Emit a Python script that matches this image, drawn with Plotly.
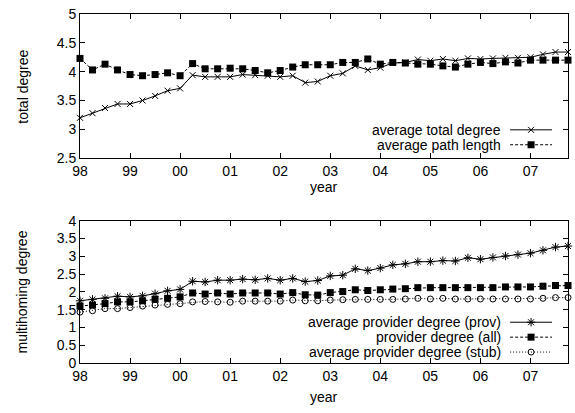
import plotly.graph_objects as go

# ---------------- data ----------------
years = [1998 + 0.25 * i for i in range(40)]
tick_vals = list(range(1998, 2008))
tick_text = ["98", "99", "00", "01", "02", "03", "04", "05", "06", "07"]

avg_total_degree = [3.20, 3.28, 3.37, 3.44, 3.44, 3.50, 3.58, 3.67, 3.71, 3.94,
                    3.91, 3.91, 3.91, 3.95, 3.94, 3.93, 3.91, 3.93, 3.81, 3.83,
                    3.93, 3.97, 4.10, 4.03, 4.07, 4.15, 4.16, 4.21, 4.19, 4.22,
                    4.19, 4.23, 4.22, 4.23, 4.24, 4.24, 4.25, 4.30, 4.34, 4.34]
avg_path_length = [4.23, 4.03, 4.13, 4.03, 3.95, 3.93, 3.95, 3.98, 3.93, 4.14,
                   4.05, 4.05, 4.06, 4.05, 4.02, 3.98, 4.02, 4.08, 4.12, 4.12,
                   4.12, 4.16, 4.16, 4.22, 4.13, 4.16, 4.15, 4.13, 4.13, 4.10,
                   4.08, 4.13, 4.16, 4.14, 4.17, 4.15, 4.20, 4.20, 4.20, 4.20]

prov_degree = [1.75, 1.79, 1.82, 1.88, 1.86, 1.89, 1.95, 2.03, 2.07, 2.30,
               2.28, 2.33, 2.33, 2.36, 2.34, 2.38, 2.33, 2.38, 2.29, 2.32,
               2.45, 2.47, 2.65, 2.60, 2.67, 2.76, 2.79, 2.85, 2.85, 2.88,
               2.87, 2.96, 2.92, 2.97, 3.01, 3.05, 3.09, 3.17, 3.26, 3.29]
all_degree = [1.60, 1.63, 1.67, 1.72, 1.72, 1.75, 1.79, 1.82, 1.86, 1.97,
              1.94, 1.97, 1.94, 1.97, 1.97, 1.97, 1.94, 1.98, 1.92, 1.91,
              1.98, 2.01, 2.06, 2.04, 2.06, 2.08, 2.09, 2.12, 2.12, 2.12,
              2.12, 2.12, 2.12, 2.12, 2.14, 2.14, 2.14, 2.16, 2.18, 2.18]
stub_degree = [1.43, 1.47, 1.53, 1.53, 1.56, 1.60, 1.63, 1.65, 1.67, 1.72,
               1.73, 1.72, 1.71, 1.74, 1.74, 1.74, 1.74, 1.77, 1.75, 1.75,
               1.77, 1.78, 1.79, 1.79, 1.79, 1.79, 1.80, 1.82, 1.80, 1.82,
               1.80, 1.80, 1.80, 1.80, 1.80, 1.80, 1.80, 1.82, 1.84, 1.84]

top_names = ["average total degree", "average path length"]
bot_names = ["average provider degree (prov)", "provider degree (all)",
             "average provider degree (stub)"]

# ---------------- geometry ----------------
W, H = 575, 413
L, R, T, B = 80, 6, 12, 50
PW, PH = W - L - R, H - T - B


def px(x):
    return (x - L) / PW


def py(y):
    return (H - B - y) / PH


FONT = "Liberation Sans, Arial, Helvetica, sans-serif"
BLACK = "#000000"

styles = {
    "total": dict(line=dict(color=BLACK, width=1, dash="solid"),
                  marker=dict(symbol="x-thin-open", size=6, color=BLACK,
                              line=dict(color=BLACK, width=1))),
    "path": dict(line=dict(color=BLACK, width=1, dash="3px,2px"),
                 marker=dict(symbol="square", size=7, color=BLACK,
                             line=dict(width=0))),
    "prov": dict(line=dict(color=BLACK, width=1, dash="solid"),
                 marker=dict(symbol="asterisk-open", size=7, color=BLACK,
                             line=dict(color=BLACK, width=1))),
    "all": dict(line=dict(color=BLACK, width=1, dash="3px,2px"),
                marker=dict(symbol="square", size=7, color=BLACK,
                            line=dict(width=0))),
    "stub": dict(line=dict(color=BLACK, width=1, dash="1px,2px"),
                 marker=dict(symbol="circle-open", size=6, color=BLACK,
                             line=dict(color=BLACK, width=1))),
}

fig = go.Figure()

fig.add_trace(go.Scatter(x=years, y=avg_total_degree, mode="lines+markers",
                         name=top_names[0], xaxis="x", yaxis="y", **styles["total"]))
fig.add_trace(go.Scatter(x=years, y=avg_path_length, mode="lines+markers",
                         name=top_names[1], xaxis="x", yaxis="y", **styles["path"]))
fig.add_trace(go.Scatter(x=years, y=prov_degree, mode="lines+markers",
                         name=bot_names[0], xaxis="x2", yaxis="y2", **styles["prov"]))
fig.add_trace(go.Scatter(x=years, y=all_degree, mode="lines+markers",
                         name=bot_names[1], xaxis="x2", yaxis="y2", **styles["all"]))
fig.add_trace(go.Scatter(x=years, y=stub_degree, mode="lines+markers",
                         name=bot_names[2], xaxis="x2", yaxis="y2", **styles["stub"]))

for tr in fig.data:
    tr.cliponaxis = False

# ---------------- custom legends (gnuplot style: text, then sample at right) ----
legend_rows = [
    (top_names[0], 128.5, "total"),
    (top_names[1], 143.5, "path"),
    (bot_names[0], 322, "prov"),
    (bot_names[1], 337, "all"),
    (bot_names[2], 352, "stub"),
]
LEG_SIZE = 14
annotations = []
sample_x0, sample_x1, sample_xm, text_right = 511, 553, 532, 504
for name, ypix, key in legend_rows:
    annotations.append(dict(x=px(text_right), y=py(ypix), xref="paper", yref="paper",
                            text=name, showarrow=False, xanchor="right",
                            yanchor="middle",
                            font=dict(size=LEG_SIZE, family=FONT, color=BLACK)))
    st = styles[key]
    fig.add_trace(go.Scatter(x=[px(sample_x0), px(sample_x1)], y=[py(ypix), py(ypix)],
                             mode="lines", line=st["line"], xaxis="x3", yaxis="y3",
                             showlegend=False, hoverinfo="skip"))
    fig.add_trace(go.Scatter(x=[px(sample_xm)], y=[py(ypix)], mode="markers",
                             marker=st["marker"], xaxis="x3", yaxis="y3",
                             showlegend=False, hoverinfo="skip"))

# axis titles
title_font = dict(size=14, family=FONT, color=BLACK)
annotations += [
    dict(x=px(22), y=py(85), xref="paper", yref="paper", text="total degree",
         textangle=-90, showarrow=False, xanchor="center", yanchor="middle", font=title_font),
    dict(x=px(22), y=py(292), xref="paper", yref="paper", text="multihoming degree",
         textangle=-90, showarrow=False, xanchor="center", yanchor="middle", font=title_font),
    dict(x=px(324), y=py(186), xref="paper", yref="paper", text="year",
         showarrow=False, xanchor="center", yanchor="middle", font=title_font),
    dict(x=px(324), y=py(397), xref="paper", yref="paper", text="year",
         showarrow=False, xanchor="center", yanchor="middle", font=title_font),
]

axis_common = dict(showline=True, linecolor=BLACK, linewidth=1, mirror="ticks",
                   ticks="inside", ticklen=5, tickcolor=BLACK, tickwidth=1,
                   showgrid=False, zeroline=False,
                   tickfont=dict(size=14, family=FONT, color=BLACK))

top_lo = py(157)
bot_hi = py(220)

fig.update_layout(
    width=W, height=H,
    margin=dict(l=L, r=R, t=T, b=B, pad=0),
    paper_bgcolor="white", plot_bgcolor="rgba(0,0,0,0)",
    showlegend=False,
    font=dict(family=FONT, size=14, color=BLACK),
    xaxis=dict(domain=[0, 1], anchor="y", range=[1998, 2007.75],
               tickvals=tick_vals, ticktext=tick_text, **axis_common),
    yaxis=dict(domain=[top_lo, 1], anchor="x", range=[2.5, 5], dtick=0.5,
               **axis_common),
    xaxis2=dict(domain=[0, 1], anchor="y2", range=[1998, 2007.75],
                tickvals=tick_vals, ticktext=tick_text, **axis_common),
    yaxis2=dict(domain=[0, bot_hi], anchor="x2", range=[0, 4], dtick=0.5,
                **axis_common),
    xaxis3=dict(domain=[0, 1], range=[0, 1], visible=False, anchor="y3"),
    yaxis3=dict(domain=[0, 1], range=[0, 1], visible=False, anchor="x3"),
    annotations=annotations,
)

fig.write_html("out.html")
